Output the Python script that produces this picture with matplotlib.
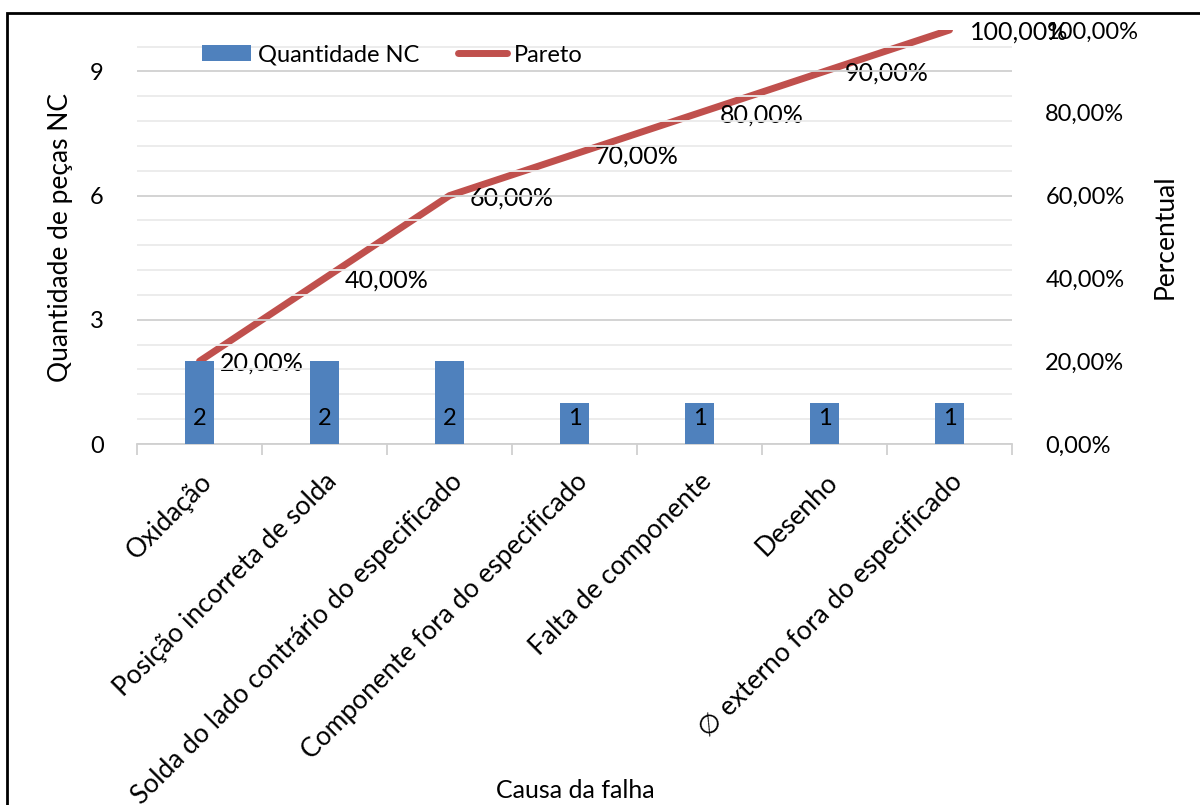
import matplotlib
matplotlib.use("Agg")
import matplotlib.pyplot as plt
from matplotlib.patches import Rectangle

plt.rcParams['font.family'] = ['Lato', 'DejaVu Sans']

causas = ["Oxidação", "Posição incorreta de solda", "Solda do lado contrário do especificado",
          "Componente fora do especificado", "Falta de componente", "Desenho",
          "∅ externo fora do especificado"]
qtd = [2, 2, 2, 1, 1, 1, 1]
pareto = [0.20, 0.40, 0.60, 0.70, 0.80, 0.90, 1.00]
left_ticks = [0, 3, 6, 9]
right_ticks = [0, 0.2, 0.4, 0.6, 0.8, 1.0]

azul = "#4F81BD"
vermelho = "#C0504D"
fs = 17
fs_big = 19

fig = plt.figure(figsize=(12, 8.05), dpi=100)
ax = fig.add_axes([137/1200, 1-444/805, (1012-137)/1200, (444-30)/805])
ax2 = ax.twinx()

x = list(range(len(causas)))
ax.bar(x, qtd, width=0.23, color=azul, label="Quantidade NC", zorder=3)
ax.set_xlim(-0.5, len(causas)-0.5)
ax.set_ylim(0, 10)
ax.set_yticks(left_ticks)
ax.set_yticks([i*0.6 for i in range(17)], minor=True)
ax.grid(axis='y', which='major', color="#D0D0D0", lw=1.3, zorder=0)
ax.grid(axis='y', which='minor', color="#EBEBEB", lw=1.3, zorder=0)
ax.tick_params(axis='y', which='both', length=0, labelsize=fs, pad=24)
ax.set_xticks(x)
ax.set_xticks([i-0.5 for i in range(len(causas)+1)], minor=True)
ax.tick_params(axis='x', which='major', length=0, pad=18)
ax.tick_params(axis='x', which='minor', length=8, color="#D0D0D0", width=1.3)
ax.set_xticklabels(causas, rotation=45, ha='right', va='top', rotation_mode='anchor', fontsize=fs_big)
for s in ["top", "left", "right"]:
    ax.spines[s].set_visible(False)
    ax2.spines[s].set_visible(False)
ax.spines["bottom"].set_color("#D0D0D0")
ax.spines["bottom"].set_linewidth(1.3)
ax2.spines["bottom"].set_visible(False)
ax.set_ylabel("Quantidade de peças NC", fontsize=fs_big, labelpad=12)
ax.set_xlabel("Causa da falha", fontsize=fs_big-1, va='center')
ax.xaxis.set_label_coords(575/1200, 1-790/805, transform=fig.transFigure)

for xi, v in zip(x, qtd):
    ax.annotate(str(v), (xi, 0), xytext=(0, 15), textcoords='offset pixels',
                ha='center', va='bottom', fontsize=fs, zorder=4)

ax2.plot(x, pareto, color=vermelho, lw=5, solid_capstyle='round', label="Pareto", zorder=3)
ax2.set_ylim(0, 1)
ax2.set_yticks(right_ticks)
ax2.set_yticklabels([f"{v*100:.2f}%".replace(".", ",") for v in right_ticks])
ax2.tick_params(axis='y', length=0, labelsize=fs, pad=24)
ax2.set_ylabel("Percentual", fontsize=fs_big, labelpad=10)
for xi, p in zip(x, pareto):
    ax2.annotate(f"{p*100:.2f}%".replace(".", ","), (xi, p), xytext=(20, -2),
                 textcoords='offset pixels', ha='left', va='center', fontsize=18)

h1, l1 = ax.get_legend_handles_labels()
h2, l2 = ax2.get_legend_handles_labels()
ax.legend(h1+h2, l1+l2, ncol=2, frameon=False, fontsize=fs, loc='center left',
          bbox_to_anchor=(190/1200, 1-55/805), bbox_transform=fig.transFigure,
          borderpad=0, handlelength=2.1, handletextpad=0.3, columnspacing=1.6)
ax.set_zorder(ax2.get_zorder()+1)
ax.patch.set_visible(False)

fig.patches.append(Rectangle((7/1200, -0.1), 1.2, 1-13/805+0.1, transform=fig.transFigure,
                             fill=False, edgecolor='black', lw=2))

fig.savefig("out.png", dpi=100)
